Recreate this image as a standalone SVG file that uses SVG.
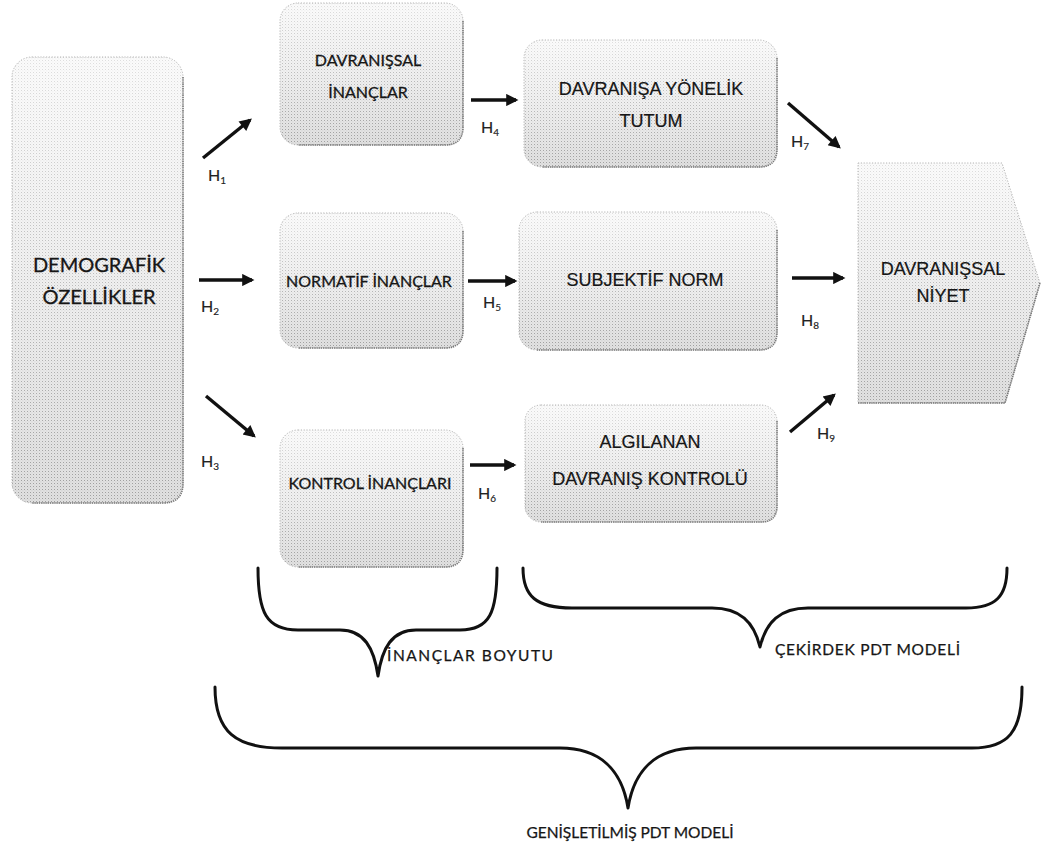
<svg xmlns="http://www.w3.org/2000/svg" width="1042" height="846" viewBox="0 0 1042 846">
  <style>
    .box-base { fill: url(#shade); }
    .box-dots { fill: url(#dots); mask: url(#fade); }
    .box-edge { fill: none; stroke: #b4b4b4; stroke-width: 1; stroke-dasharray: 1.2 1.6; }
    .box-shadow { fill: none; stroke: #7a7a7a; stroke-width: 1.6; stroke-dasharray: 1.4 0.8; }
    .cal { font-family: Lato, "Open Sans", "Liberation Sans", sans-serif; fill: #161616; stroke: #161616; stroke-width: 0.3; text-anchor: middle; }
    .ari { font-family: "Liberation Sans", Arial, sans-serif; fill: #161616; stroke: #161616; stroke-width: 0.2; text-anchor: middle; }
    .hlab { font-family: Lato, "Liberation Sans", sans-serif; font-size: 16px; fill: #222; stroke: #222; stroke-width: 0.15; }
    .hsub { font-size: 10px; }
    .arrow { stroke: #111; stroke-width: 3.4; fill: none; marker-end: url(#head); }
    .brace { stroke: #111; stroke-width: 3; fill: none; stroke-linecap: round; stroke-linejoin: round; }
    .blab { font-family: Lato, "Open Sans", sans-serif; font-size: 15.5px; fill: #161616; stroke: #161616; stroke-width: 0.25; }
  </style>
  <defs>
    <linearGradient id="shade" x1="0" y1="0" x2="0" y2="1">
      <stop offset="0" stop-color="#fbfbfb"/>
      <stop offset="0.5" stop-color="#f0f0f0"/>
      <stop offset="1" stop-color="#e0e0e0"/>
    </linearGradient>
    <linearGradient id="fadeGrad" x1="0" y1="0" x2="0" y2="1">
      <stop offset="0" stop-color="#fff" stop-opacity="0.3"/>
      <stop offset="1" stop-color="#fff" stop-opacity="1"/>
    </linearGradient>
    <mask id="fade" maskContentUnits="objectBoundingBox">
      <rect width="1" height="1" fill="url(#fadeGrad)"/>
    </mask>
    <pattern id="dots" width="3" height="3" patternUnits="userSpaceOnUse">
      <rect x="0" y="0" width="1" height="1" fill="#9e9e9e"/>
      <rect x="1.5" y="1.5" width="0.8" height="0.8" fill="#bdbdbd"/>
    </pattern>
    <marker id="head" viewBox="0 0 10 10" refX="8" refY="5" markerWidth="4" markerHeight="3.6" markerUnits="strokeWidth" orient="auto">
      <path d="M0,0 L10,5 L0,10 Z" fill="#111"/>
    </marker>
  </defs>

  <!-- Demographic characteristics -->
  <g id="demografik">
    <rect class="box-base" x="12" y="57" width="171" height="446" rx="20"/>
    <rect class="box-dots" x="12" y="57" width="171" height="446" rx="20"/>
    <rect class="box-edge" x="12" y="57" width="171" height="446" rx="20"/>
    <path class="box-shadow" d="M183,77 L183,483 Q183,503 163,503 L32,503"/>
    <text class="cal" x="99" y="272" font-size="20">DEMOGRAFİK</text>
    <text class="cal" x="99" y="304" font-size="20">ÖZELLİKLER</text>
  </g>

  <!-- Belief boxes -->
  <g id="davranissal-inanclar">
    <rect class="box-base" x="280" y="3" width="183" height="142" rx="18"/>
    <rect class="box-dots" x="280" y="3" width="183" height="142" rx="18"/>
    <rect class="box-edge" x="280" y="3" width="183" height="142" rx="18"/>
    <path class="box-shadow" d="M463,21 L463,127 Q463,145 445,145 L298,145"/>
    <text class="cal" x="368" y="66" font-size="16">DAVRANIŞSAL</text>
    <text class="cal" x="368" y="98" font-size="16">İNANÇLAR</text>
  </g>

  <g id="normatif-inanclar">
    <rect class="box-base" x="280" y="213" width="183" height="135" rx="18"/>
    <rect class="box-dots" x="280" y="213" width="183" height="135" rx="18"/>
    <rect class="box-edge" x="280" y="213" width="183" height="135" rx="18"/>
    <path class="box-shadow" d="M463,231 L463,330 Q463,348 445,348 L298,348"/>
    <text class="cal" x="369" y="287" font-size="16">NORMATİF İNANÇLAR</text>
  </g>

  <g id="kontrol-inanclari">
    <rect class="box-base" x="280" y="430" width="183" height="137" rx="18"/>
    <rect class="box-dots" x="280" y="430" width="183" height="137" rx="18"/>
    <rect class="box-edge" x="280" y="430" width="183" height="137" rx="18"/>
    <path class="box-shadow" d="M463,448 L463,549 Q463,567 445,567 L298,567"/>
    <text class="cal" x="370" y="489" font-size="16">KONTROL İNANÇLARI</text>
  </g>

  <!-- Core model boxes -->
  <g id="tutum">
    <rect class="box-base" x="524" y="40" width="253" height="127" rx="18"/>
    <rect class="box-dots" x="524" y="40" width="253" height="127" rx="18"/>
    <rect class="box-edge" x="524" y="40" width="253" height="127" rx="18"/>
    <path class="box-shadow" d="M777,58 L777,149 Q777,167 759,167 L542,167"/>
    <text class="ari" x="651" y="95" font-size="18">DAVRANIŞA YÖNELİK</text>
    <text class="ari" x="651" y="127" font-size="18">TUTUM</text>
  </g>

  <g id="subjektif-norm">
    <rect class="box-base" x="519" y="212" width="258" height="138" rx="18"/>
    <rect class="box-dots" x="519" y="212" width="258" height="138" rx="18"/>
    <rect class="box-edge" x="519" y="212" width="258" height="138" rx="18"/>
    <path class="box-shadow" d="M777,230 L777,332 Q777,350 759,350 L537,350"/>
    <text class="ari" x="645" y="286" font-size="18">SUBJEKTİF NORM</text>
  </g>

  <g id="davranis-kontrolu">
    <rect class="box-base" x="525" y="405" width="252" height="117" rx="16"/>
    <rect class="box-dots" x="525" y="405" width="252" height="117" rx="16"/>
    <rect class="box-edge" x="525" y="405" width="252" height="117" rx="16"/>
    <path class="box-shadow" d="M777,421 L777,506 Q777,522 761,522 L541,522"/>
    <text class="ari" x="650" y="448" font-size="18">ALGILANAN</text>
    <text class="ari" x="650" y="485" font-size="18">DAVRANIŞ KONTROLÜ</text>
  </g>

  <!-- Behavioural intention -->
  <g id="davranissal-niyet">
    <polygon class="box-base" points="858,163 1002,163 1040,283 1005,403 858,403"/>
    <polygon class="box-dots" points="858,163 1002,163 1040,283 1005,403 858,403"/>
    <polygon class="box-edge" points="858,163 1002,163 1040,283 1005,403 858,403"/>
    <path class="box-shadow" d="M1040,283 L1005,403 L858,403"/>
    <text class="ari" x="943" y="275" font-size="18">DAVRANIŞSAL</text>
    <text class="ari" x="943" y="302" font-size="18">NİYET</text>
  </g>

  <!-- Hypothesis arrows -->
  <g id="connectors">
    <line class="arrow" x1="203" y1="158" x2="250" y2="120"/>
    <line class="arrow" x1="199" y1="280" x2="252" y2="280"/>
    <line class="arrow" x1="206" y1="396" x2="254" y2="436"/>
    <line class="arrow" x1="471" y1="100" x2="516" y2="100"/>
    <line class="arrow" x1="468" y1="281" x2="515" y2="281"/>
    <line class="arrow" x1="470" y1="465" x2="514" y2="465"/>
    <line class="arrow" x1="788" y1="103" x2="839" y2="147"/>
    <line class="arrow" x1="792" y1="278" x2="843" y2="278"/>
    <line class="arrow" x1="790" y1="432" x2="834" y2="395"/>

    <text class="hlab" x="208" y="181">H<tspan class="hsub" dy="3">1</tspan></text>
    <text class="hlab" x="201" y="312">H<tspan class="hsub" dy="3">2</tspan></text>
    <text class="hlab" x="201" y="467">H<tspan class="hsub" dy="3">3</tspan></text>
    <text class="hlab" x="481" y="133">H<tspan class="hsub" dy="3">4</tspan></text>
    <text class="hlab" x="483" y="308">H<tspan class="hsub" dy="3">5</tspan></text>
    <text class="hlab" x="478" y="499">H<tspan class="hsub" dy="3">6</tspan></text>
    <text class="hlab" x="791" y="147">H<tspan class="hsub" dy="3">7</tspan></text>
    <text class="hlab" x="801" y="326">H<tspan class="hsub" dy="3">8</tspan></text>
    <text class="hlab" x="817" y="439">H<tspan class="hsub" dy="3">9</tspan></text>
  </g>

  <!-- Grouping braces -->
  <g id="inanclar-boyutu">
    <path class="brace" d="M258,568 C258,612 266,630 298,630 L340,630 C364,630 374,648 378,676 C382,648 392,630 416,630 L460,630 C490,630 497,612 497,568"/>
    <text class="blab" x="387" y="661" textLength="166" lengthAdjust="spacing">İNANÇLAR BOYUTU</text>
  </g>

  <g id="cekirdek-model">
    <path class="brace" d="M523,568 C523,596 536,608 572,608 L712,608 C740,608 754,622 760,647 C766,622 780,608 808,608 L966,608 C996,608 1007,596 1007,568"/>
    <text class="blab" x="775" y="655" textLength="185" lengthAdjust="spacing">ÇEKİRDEK PDT MODELİ</text>
  </g>

  <g id="genisletilmis-model">
    <path class="brace" d="M215,687 C215,732 236,748 282,748 L560,748 C600,748 622,770 628,808 C634,770 656,748 696,748 L972,748 C1008,748 1022,732 1022,687"/>
    <text class="blab" x="630" y="838" text-anchor="middle" textLength="207" lengthAdjust="spacing">GENİŞLETİLMİŞ PDT MODELİ</text>
  </g>
</svg>
